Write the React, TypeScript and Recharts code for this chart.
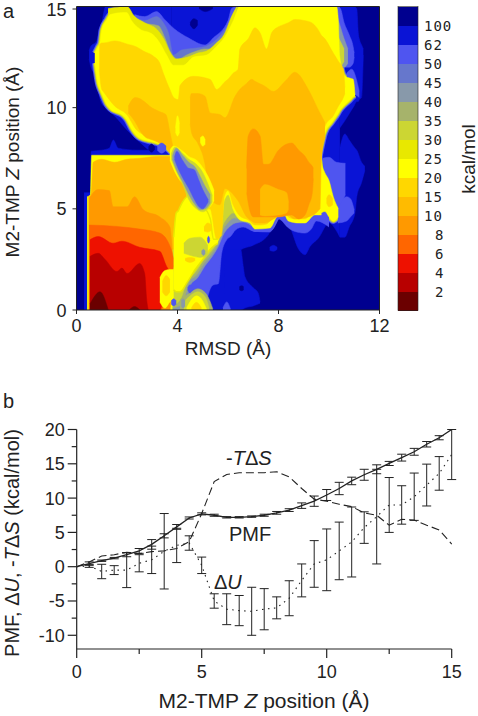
import React from "react";
import { ComposedChart, Area, Line, Bar, XAxis, YAxis, ErrorBar } from "recharts";

type Row = [number, number, number];

// ---------- panel a: contour regions [RMSD, low Z, high Z] ----------
const C = {
  navy: "#00008f", blue: "#0a14d6", peri: "#4f55f0", steel: "#6677cc", grey: "#8899aa", olive: "#a6b36b",
  lime: "#ccd633", dull: "#e8e800", yellow: "#ffff00", gold: "#ffd700", amber: "#ffbb00", orange: "#ff9900",
  dorange: "#ff6600", red: "#ee1100", dred: "#b80000", maroon: "#6b0000",
};
const navyField: Row[] = [[0, 0, 15], [12, 0, 15]];
const blueUpper: Row[] = [[.5, 12.4, 12.8], [.55, 12.1, 13], [.8, 11.4, 13.3], [.9, 10.6, 13.9], [1, 10.2, 14.2], [1.15, 10, 15], [1.5, 9.6, 15], [2, 8.9, 15], [2.5, 8.3, 15], [3, 7.8, 15], [3.75, 7.6, 15]];
const blueLower: Row[] = [[.3, 0, 5.8], [.55, 0, 5.8], [.58, 0, 7.85], [1, 0, 7.9], [1.3, 0, 8], [1.46, 0, 8.4], [1.65, 0, 8], [2.4, 0, 7.9], [3.8, 0, 7.9]];
const blueMain: Row[] = [[3.75, 0, 15], [5.9, 0, 15], [6.4, 0, 15], [6.5, 2.97, 15], [7, 3.2, 15], [7.6, 3.72, 15], [7.86, 4.46, 15], [8.19, 4.71, 15], [8.45, 4.13, 15], [8.8, 3, 15], [9.05, 2.73, 15], [9.25, 3.14, 15], [9.58, 3.55, 15], [10, 4.3, 15], [10.3, 3.9, 15], [10.43, 3.6, 15]];
const blueRightLow: Row[] = [[10.43, 3.6, 8], [10.63, 3.6, 8.7], [10.8, 4.1, 8.4], [11.03, 4.8, 8], [11.1, 5.6, 7.9], [11.29, 6.3, 7.3], [11.42, 6.9, 7.1]];
const blueRightUp: Row[] = [[10.43, 9, 15], [10.6, 9.3, 15], [10.8, 9.7, 15], [11, 10.1, 15], [11.1, 10.3, 14.9], [11.16, 10.3, 13.7], [11.2, 10.4, 13.4], [11.29, 10.5, 13.1], [11.36, 12.6, 12.9]];
const blueLobe: Row[] = [[5.88, 0, 3], [6.5, 0, 3], [6.6, .05, 2.2], [6.67, .1, 1.65], [7, .2, 1.1], [7.2, .3, .83], [7.27, .33, .4]];
const blueIsle: Row[] = [[7.65, 2.95, 3.1], [7.8, 2.9, 3.2], [7.95, 3, 3.1]];
const navySpotA: Row[] = [[4.5, 14.1, 14.2], [4.65, 13.9, 14.4], [4.8, 14.1, 14.3]];
const navySpotB: Row[] = [[4.85, 14.9, 15], [5.1, 14.75, 15], [5.4, 14.9, 15]];
const navySpotC: Row[] = [[6.45, 1, 1.15], [6.54, .95, 1.2], [6.62, 1, 1.15]];

const periTop: Row[] = [[2.3, 11, 14.6], [2.7, 11, 14.5], [3.17, 11, 14.75], [3.5, 11, 14.35], [3.87, 11, 13.9], [4.43, 11, 13.45], [5.09, 11, 13.1], [5.42, 11, 13.45], [6, 11, 14.3], [6.14, 11, 14.9], [6.3, 11, 15]];
const steelTop: Row[] = [[2.3, 11, 14.5], [2.7, 11, 14.3], [3.17, 11, 14.5], [3.44, 11, 14.2], [3.64, 11, 13.7], [3.84, 11, 12.6], [4.16, 11, 12.85], [4.76, 11, 12.95], [5.15, 11, 13.05], [5.48, 11, 13.3], [6, 11, 14.1], [6.17, 11, 14.5], [6.36, 11, 14.9]];
const oliveTop: Row[] = [[2.25, 11, 14.6], [2.58, 11, 14.2], [3.24, 11, 14.05], [3.5, 11, 13.45], [3.7, 11, 12.8], [4.03, 11, 12.4], [4.36, 11, 12.6], [4.76, 11, 12.8], [5.09, 11, 12.9], [5.38, 11, 12.9], [5.75, 11, 13.4], [6.14, 11, 13.95], [6.4, 11, 14.75]];
const dullTop: Row[] = [[1.25, 11, 14.9], [2, 11, 15], [2.3, 11, 14.5], [2.7, 11, 14.2], [3.2, 11, 13.85], [3.5, 11, 13.3], [3.7, 11, 12.75], [3.95, 11, 12.4], [4.4, 11, 12.5], [4.8, 11, 12.7], [5.15, 11, 12.8], [5.5, 11, 13.15], [5.9, 11, 13.75], [6.1, 11, 14.4], [6.35, 11, 15]];
const periEast: Row[] = [[10.3, 12, 15], [10.45, 12, 14.9], [10.6, 12, 14.2], [10.8, 12, 13.6], [10.96, 12.2, 13], [11, 12.5, 12.7]];
const greyEast: Row[] = [[10.3, 12, 14.6], [10.45, 12, 14], [10.6, 12, 13.4], [10.75, 12.2, 12.9]];
const oliveEast: Row[] = [[10.2, 12, 13.9], [10.4, 12, 13.4], [10.6, 12.3, 12.9]];
const periKnob: Row[] = [[10.7, 10.7, 11.7], [10.9, 10.7, 11.9], [11.2, 10.5, 10.8]];
const periSouthEast: Row[] = [[10.35, 4.3, 5.2], [10.7, 4.4, 5.6], [10.85, 4.6, 5.5], [11, 4.8, 4.95]];
const periEastMid: Row[] = [[9.75, 6.5, 7.5], [10, 6, 7.55], [10.3, 5.1, 7.3], [10.65, 5.7, 7.25]];
const periCentre: Row[] = [[3.6, 0, 6], [5, 0, 6], [5.15, .3, 6], [5.2, .65, 6], [5.42, 1.24, 6], [5.62, 1.3, 6], [5.75, 2.8, 6], [5.95, 3.47, 6], [6.1, 3.63, 6], [6.3, 3.96, 6], [6.6, 4.1, 5.5], [7, 3.9, 5], [7.66, 3.85, 4.5], [8, 4.5, 5], [8.4, 4.05, 5], [8.6, 3.9, 5], [9.05, 3.8, 5], [9.3, 4, 5], [9.5, 4.4, 5], [10, 4.1, 5]];
const greyCentre: Row[] = [[3.5, 0, 6], [4.3, 0, 6], [4.5, 1.2, 6], [4.8, 1.6, 6], [5.1, 2.2, 6], [5.35, 2.6, 6], [5.6, 3.1, 6], [5.85, 3.8, 6], [6.05, 4.1, 6], [6.3, 4.3, 6], [6.6, 4.35, 5.5], [7, 4.1, 5]];
const oliveCentre: Row[] = [[3.5, 0, 6], [4.2, .3, 6], [4.45, 1.35, 6], [4.75, 1.72, 6], [5.05, 2.3, 6], [5.32, 2.72, 6], [5.58, 3.2, 6], [5.82, 4, 6], [6.02, 4.35, 6], [6.25, 4.55, 6], [6.55, 4.4, 6]];
const limeCentre: Row[] = [[3.5, 0, 6], [4.1, .5, 6], [4.4, 1.45, 6], [4.7, 1.85, 6], [5, 2.4, 6], [5.3, 2.85, 6], [5.55, 3.3, 6], [5.8, 4.2, 6], [6, 4.6, 6], [6.2, 4.8, 6], [6.5, 4.45, 6]];

const yellowMain: Row[] = [[.73, 12.2, 12.7], [.85, 11.2, 13], [.93, 10.9, 13.2], [1, 10.7, 13.85], [1.2, 10.15, 14.35], [1.33, 9.95, 14.6], [1.85, 9.6, 14.7], [1.99, 9.4, 14.7], [2.18, 8.95, 14.3], [2.5, 8.5, 13.9], [3.04, 8.3, 13.6], [3.3, 8.2, 13.2], [3.57, 8, 12.6], [3.84, 7.6, 12.1], [4.23, 6, 12.1], [4.63, 5, 12.5], [5.15, 4, 12.6], [5.4, 3.2, 12.85], [5.6, 3.4, 13.1], [5.75, 4.2, 13.3], [5.85, 5.4, 13.45], [6.01, 5.7, 13.8], [6.21, 4.95, 14.3], [6.47, 4.45, 15], [6.87, 4.3, 15], [7.07, 4, 15], [7.66, 4.05, 15], [7.93, 4.6, 15], [8.19, 4.8, 15], [8.39, 4.4, 15], [8.8, 4.3, 15], [9.05, 4.3, 15], [9.44, 4.7, 15], [9.7, 4.7, 15]];
const yellowEastUp: Row[] = [[9.6, 7.4, 15], [9.84, 8.75, 15], [10.1, 9.25, 15], [10.3, 9.6, 15], [10.37, 9.74, 14.3], [10.42, 9.85, 12.6], [10.63, 10.15, 11.55], [10.85, 10.4, 11.45], [10.96, 10.55, 11.4], [11.03, 10.6, 10.65]];
const yellowEastLow: Row[] = [[9.6, 4.7, 7.6], [9.84, 4.87, 6.77], [10, 4.6, 6.4], [10.17, 4.4, 5.6], [10.37, 4.6, 5]];
const yellowBody: Row[] = [[.42, 0, 5.6], [.55, 0, 5.7], [.6, 0, 7.65], [3.8, 0, 7.65]];

const goldMain: Row[] = [[.9, 11.9, 13.1], [1, 10.9, 13.2], [1.06, 10.8, 13.2], [1.52, 10.07, 13.3], [1.99, 9.66, 13.15], [2.38, 8.9, 13], [2.65, 8.67, 12.8], [3.04, 8.4, 12.55], [3.3, 8.25, 12.2], [3.44, 8.15, 11.7], [3.7, 7.9, 10.9], [3.85, 5, 10.5], [4.03, 5, 10.4], [4.1, 5, 11.1], [4.63, 5, 11.55], [5.29, 5, 11.4], [5.55, 3.5, 10.9], [5.75, 3.7, 11.1], [5.85, 5.6, 11.25], [6, 5.9, 11.4], [6.2, 5.2, 11.7], [6.4, 4.75, 11.9], [6.47, 4.65, 12.9], [6.8, 4.45, 13.4], [7.07, 4.2, 13.95], [7.27, 4.2, 13.7], [7.53, 4.25, 12.9], [7.73, 4.5, 13.7], [8, 4.85, 14], [8.19, 5, 14.1], [8.39, 4.6, 14.2], [8.65, 4.5, 14.36], [9.05, 4.5, 14.3], [9.31, 4.8, 14.2], [9.64, 5, 13.7], [9.66, 8.1, 13.65], [9.84, 9.08, 13.4], [10.17, 9.6, 12.7], [10.37, 10.07, 12.3], [10.57, 10.5, 11.9], [10.63, 10.7, 11]];
const goldLump: Row[] = [[9.9, 5.3, 5.5], [10, 5.1, 5.7], [10.15, 5.2, 5.5]];
const amberUL: Row[] = [[2.05, 9.74, 10.07], [2.32, 9.3, 10.5], [2.5, 8.9, 10.45], [2.78, 8.5, 10.2], [2.9, 8.45, 10.07], [3.3, 8.25, 9.8], [3.54, 8, 9.66], [3.7, 7.8, 8.8], [3.83, 7.6, 8]];
const amberBody: Row[] = [[.47, 0, 5.6], [.58, 0, 5.7], [.66, 0, 7.3], [1, 0, 7.45], [1.5, 0, 7.3], [2, 0, 7.45], [2.5, 0, 7.5], [3.3, 0, 7.6], [3.8, 3, 7.6], [4, 3, 7.5], [4.4, 4.8, 6.5]];
const amberEast: Row[] = [[4.5, 9.2, 10.5], [4.56, 8.75, 10.7], [4.8, 8.25, 10.7], [5.09, 7.2, 10.56], [5.29, 5.5, 9.74], [5.68, 5.2, 9.66], [5.88, 6, 9.5], [6.28, 5.6, 10.56], [6.4, 5.4, 10.8], [6.74, 4.6, 11.2], [6.94, 4.4, 11.4], [7.07, 4.3, 11.3], [7.46, 4.3, 11.06], [7.8, 4.5, 10.8], [8.26, 4.8, 11.3], [8.65, 4.5, 11.75], [9.18, 4.6, 10.9], [9.64, 5, 9.74], [9.7, 7.5, 9.6], [9.84, 8.5, 9.25]];
const orangeEast: Row[] = [[6.74, 5.8, 7], [6.8, 5.3, 8.6], [7, 4.6, 8.95], [7.27, 4.6, 8.6], [7.4, 4.6, 7.2], [7.6, 4.6, 7.2], [8, 4.6, 7.9], [8.52, 4.7, 8.25], [8.8, 4.5, 7.9], [9.05, 4.7, 7.6], [9.2, 5.2, 7.3], [9.34, 5.8, 7.1], [9.38, 6.5, 7]];
const amberInner: Row[] = [[7.27, 4.7, 5.95], [7.46, 4.65, 6.2], [8, 4.7, 5.95], [8.32, 4.8, 5.8], [8.4, 5, 5.3]];
const orangeBody: Row[] = [[.5, 0, 5.5], [.85, 0, 5.95], [1.3, 0, 5.9], [1.45, 0, 5.1], [2, 0, 5.1], [2.3, 0, 5.6], [2.65, 0, 4.95], [3.3, 0, 4.6], [3.7, 0, 4.1], [3.8, 2.4, 2.8]];
const dorangeBody: Row[] = [[.5, 0, 4.2], [1.6, 0, 4.13], [2.5, 0, 4], [3.3, 0, 3.8], [3.75, 1.5, 3], [3.85, 2.2, 2.5]];
const redBody: Row[] = [[.53, 0, 3.47], [.86, 0, 3.63], [1.45, 0, 3.3], [1.8, 0, 3.4], [2.5, 0, 3.1], [3.3, 0, 2.9], [3.57, 1.2, 2.15], [3.7, 1.4, 1.9]];
const dredBody: Row[] = [[.53, 0, 2.65], [.86, 0, 2.8], [1.13, 0, 2.5], [1.6, 0, 1.9], [1.8, 0, 2.07], [2, 0, 1.8], [2.5, 0, 2.3], [2.7, 0, 1.8], [2.78, 0, .5], [2.84, 0, 0]];
const maroonBody: Row[] = [[.53, 0, .3], [.6, 0, .45], [.93, 0, .9], [1.26, 0, 0]];
const maroonTip: Row[] = [[2.1, 0, .02], [2.3, 0, .17], [2.5, 0, .02]];

const yellowLump: Row[] = [[3.3, .4, 1.6], [3.5, .1, 1.95], [3.7, .4, 2], [3.85, .6, 2]];
const goldLumpB: Row[] = [[3.4, .9, 1.4], [3.55, .7, 1.7], [3.7, .9, 1.5]];
const redDot: Row[] = [[3.9, 1.5, 2], [3.97, 1.4, 2], [4.03, 1.6, 1.9]];
const yellowCentre: Row[] = [[3.85, 1, 3.6], [3.95, .9, 4.8], [4.03, .9, 4.9], [4.1, .9, 5.1], [4.4, 1.4, 5.6], [4.7, 2, 5.2], [5, 2.5, 5.1], [5.3, 3, 4.5], [5.42, 3.15, 3.5], [5.6, 3.3, 3.5]];
const limePatch: Row[] = [[4.25, 2.8, 3.3], [4.5, 2.7, 3.55], [4.9, 2.6, 3.6], [5.2, 2.7, 3.2]];
const greyFloor: Row[] = [[4.1, 0, .5], [4.5, 0, .85], [4.8, 0, 1.05], [5.1, 0, .85], [5.3, 0, .4], [5.4, 0, .05]];
const limeFloor: Row[] = [[4.25, 0, .4], [4.5, 0, .7], [4.8, 0, .9], [5.1, 0, .65], [5.25, 0, .1]];
const yellowFloor: Row[] = [[4.36, 0, .1], [4.5, 0, .42], [4.75, 0, .7], [5, 0, .45], [5.15, 0, .05]];
const goldFloor: Row[] = [[4.55, 0, .1], [4.75, 0, .38], [4.95, 0, .1]];
const goldSpot: Row[] = [[5.05, 3.9, 4.1], [5.2, 3.85, 4.3], [5.35, 3.95, 4.2]];
const goldSpotB: Row[] = [[4.3, 2.45, 2.55], [4.5, 2.35, 2.6], [4.7, 2.45, 2.55]];
const periSpotA: Row[] = [[3.75, .3, .45], [3.85, .2, .55], [3.95, .3, .45]];
const periSpotB: Row[] = [[4.4, 1, 1.1], [4.5, .85, 1.25], [4.6, 1, 1.1]];
const greySpotA: Row[] = [[4.15, .2, .45], [4.22, .1, .55], [4.3, .2, .45]];
const periSpotC: Row[] = [[5.18, 3.45, 3.5], [5.23, 3.3, 3.65], [5.28, 3.45, 3.5]];
const greySpotB: Row[] = [[4.95, 2.8, 2.9], [5.03, 2.7, 3], [5.1, 2.8, 2.9]];
const yellowIsleA: Row[] = [[3.92, 8.8, 9], [4, 8.6, 9.6], [4.08, 8.8, 9.2]];
const yellowIsleB: Row[] = [[4.9, 8.3, 8.5], [5, 8.1, 8.6], [5.1, 8.2, 8.4]];

const chainYellow: Row[] = [[3.7, 7.4, 7.9], [3.85, 6.95, 8.1], [4.1, 6.4, 7.95], [4.3, 6.1, 7.75], [4.43, 5.3, 7.6], [4.76, 4.8, 7.4], [5.02, 4.9, 7], [5.29, 5.1, 6.4], [5.45, 5.4, 5.9]];
const chainLime: Row[] = [[3.75, 7.45, 7.7], [3.9, 7, 8.05], [4.2, 6.2, 7.75], [4.45, 5.45, 7.45], [4.75, 5, 7.2], [5, 4.85, 6.8], [5.2, 5, 6.25], [5.38, 5.35, 5.65]];
const chainGrey: Row[] = [[3.8, 7.45, 7.6], [3.95, 6.95, 8], [4.2, 6.35, 7.65], [4.45, 5.7, 7.3], [4.7, 5.2, 7.05], [4.9, 4.95, 6.6], [5.1, 5, 6.1], [5.3, 5.3, 5.7]];
const chainPeri: Row[] = [[3.88, 7.45, 7.55], [3.97, 7.15, 7.85], [4.2, 6.55, 7.4], [4.45, 6, 7], [4.65, 5.5, 6.95], [4.85, 5.1, 6.4], [5, 5, 5.95], [5.15, 5.2, 5.6], [5.22, 5.35, 5.45]];
const tonguePeri: Row[] = [[3.2, 7.9, 8.1], [3.37, 7.75, 8.25], [3.55, 7.9, 8.1]];
const tongueGrey: Row[] = [[3.3, 7.95, 8.05], [3.4, 7.85, 8.15], [3.48, 7.95, 8.05]];
const navyTongue: Row[] = [[2.85, 7.95, 8.05], [2.97, 7.8, 8.2], [3.1, 7.95, 8.05]];
const periFloor: Row[] = [[5.8, 0, .1], [5.95, 0, .4], [6.1, 0, .05]];

// fill, and an optional halo stroke that stands for the thin bands packed along a steep edge
const yellowPieces = [yellowMain, yellowEastUp, yellowEastLow];
const halos: [Row[], string, number, string][] = [C.peri, C.olive, C.dull].flatMap((c, k) =>
  yellowPieces.map((r) => [r, C.yellow, [6, 4, 2.2][k], c] as [Row[], string, number, string]));

const regions: [Row[], string, number?, string?][] = [
  [navyField, C.navy],
  [blueUpper, C.blue], [blueLower, C.blue], [blueMain, C.blue], [blueRightLow, C.blue], [blueRightUp, C.blue], [blueLobe, C.blue], [blueIsle, C.blue],
  [navySpotA, C.navy], [navySpotB, C.navy], [navySpotC, C.navy], [periFloor, C.peri],
  ...halos,
  [periTop, C.peri], [steelTop, C.steel], [oliveTop, C.olive], [dullTop, C.dull],
  [periEast, C.peri], [greyEast, C.grey], [oliveEast, C.lime], [periKnob, C.peri], [periSouthEast, C.peri], [periEastMid, C.peri],
  [periCentre, C.peri], [greyCentre, C.grey], [oliveCentre, C.olive], [limeCentre, C.lime],
  [yellowMain, C.yellow], [yellowEastUp, C.yellow], [yellowEastLow, C.yellow], [yellowBody, C.yellow],
  [goldMain, C.gold], [goldLump, C.gold], [amberUL, C.amber], [amberBody, C.amber], [amberEast, C.amber], [orangeEast, C.orange], [amberInner, C.amber],
  [orangeBody, C.orange], [dorangeBody, C.dorange], [redBody, C.red], [dredBody, C.dred], [maroonBody, C.maroon], [maroonTip, C.maroon],
  [yellowLump, C.yellow], [goldLumpB, C.gold], [redDot, C.red],
  [yellowCentre, C.yellow, 1.5, C.dull], [limePatch, C.lime], [greyFloor, C.olive], [limeFloor, C.lime], [yellowFloor, C.yellow], [goldFloor, C.gold], [goldSpot, C.gold], [goldSpotB, C.gold],
  [periSpotA, C.peri], [periSpotB, C.peri], [greySpotA, C.grey], [periSpotC, C.peri], [greySpotB, C.grey], [yellowIsleA, C.yellow], [yellowIsleB, C.yellow],
  [chainYellow, C.yellow], [chainLime, C.lime], [chainGrey, C.grey], [chainPeri, C.peri],
  [tongueGrey, C.grey], [tonguePeri, C.peri], [navyTongue, C.navy],
];

// ---------- colour bar ----------
const barColours = [C.maroon, C.dred, C.red, C.dorange, C.orange, C.amber, C.gold, C.yellow, C.dull, C.lime, C.olive, C.grey, C.steel, C.peri, C.blue, C.navy];
const barLabels = ["2", "4", "6", "8", "10", "15", "20", "25", "30", "35", "40", "45", "50", "62", "100"];

// ---------- panel b ----------
const zPos = [0, .5, 1, 1.5, 2, 2.5, 3, 3.5, 4, 4.5, 5, 5.5, 6, 6.5, 7, 7.5, 8, 8.5, 9, 9.5, 10, 10.5, 11, 11.5, 12, 12.5, 13, 13.5, 14, 14.5, 15];
const pmf = [0, .45, .87, 1.25, 1.75, 2.3, 3.25, 4.5, 5.8, 7.1, 7.7, 7.5, 7.2, 7.2, 7.3, 7.5, 7.85, 8.25, 8.9, 9.55, 10.45, 11.4, 12.5, 13.4, 14.2, 15.05, 15.9, 16.75, 17.85, 18.8, 20];
const pmfErr = [0, .25, .1, .1, .3, .35, .7, .3, .35, .15, .15, .15, .1, .1, .1, .15, .2, .2, .4, .75, .8, .9, .55, .8, .65, .3, .5, .5, .4, .3, 0];
const dU = [0, .1, -.7, -.5, -.5, .5, 1, 2.25, 3.1, 3.45, .2, -5, -6.2, -6.4, -6.5, -6.2, -6, -4.6, -2, .4, 1, 2.3, 3.6, 5.7, 7.3, 9, 9, 10.2, 11.9, 13.6, 16.35];
const dUErr = [0, .2, 1.05, .65, 2.55, 1.25, 2, 5.5, 2.5, 1.05, 1.2, 1.05, 2.25, 2.2, 3.5, 3, 1.6, 2.55, 2.4, 3.4, 4.5, 4.2, 5.1, 2.3, 6.9, 4, 2.8, 3.45, 3.05, 2.45, 3.65];
const tds = [0, .7, 1.55, 1.75, 2.1, 1.9, 2.2, 2.3, 2.65, 3.65, 7.75, 12.4, 13.45, 13.7, 13.7, 13.7, 13.85, 13.1, 11.4, 9.85, 9.55, 9.1, 8.75, 7.85, 7.5, 6.05, 6.9, 6.8, 6.05, 5.35, 3.3];
const panelB = zPos.map((z, i) => ({ z, pmf: pmf[i], pmfErr: pmfErr[i], dU: dU[i], dUErr: dUErr[i], tds: tds[i] }));
const xTicksB = [0, 2.5, 5, 7.5, 10, 12.5, 15];
const yTicksB = [-10, -7.5, -5, -2.5, 0, 2.5, 5, 7.5, 10, 12.5, 15, 17.5, 20];

const SANS = "'Liberation Sans', Arial, sans-serif";
const INK = "#222";

const xTickA = ({ x, y, payload }: any) => (
  <g><line x1={x} x2={x} y1={y} y2={y + 4} stroke={INK} />
    <text x={x} y={y + 22} textAnchor="middle" fontFamily={SANS} fontSize={18} fill={INK}>{payload.value}</text></g>
);
const yTickA = ({ x, y, payload }: any) => (
  <g><line x1={x - 4} x2={x} y1={y} y2={y} stroke={INK} />
    <text x={x - 10} y={y + 6.5} textAnchor="end" fontFamily={SANS} fontSize={18} fill={INK}>{payload.value}</text></g>
);
const topTick = ({ x, y }: any) => <line x1={x} x2={x} y1={y} y2={y - 4} stroke={INK} />;
const rightTick = ({ x, y }: any) => <line x1={x} x2={x + 4} y1={y} y2={y} stroke={INK} />;
const xTickB = ({ x, y, payload }: any) => {
  const major = payload.value % 5 === 0;
  return (<g><line x1={x} x2={x} y1={y} y2={y + (major ? 9 : 5)} stroke={INK} strokeWidth={1.2} />
    {major && <text x={x} y={y + 29} textAnchor="middle" fontFamily={SANS} fontSize={18} fill={INK}>{payload.value}</text>}</g>);
};
const yTickB = ({ x, y, payload }: any) => {
  const major = payload.value % 5 === 0;
  return (<g><line x1={x - (major ? 9 : 5)} x2={x} y1={y} y2={y} stroke={INK} strokeWidth={1.2} />
    {major && <text x={x - 12} y={y + 6.5} textAnchor="end" fontFamily={SANS} fontSize={18} fill={INK}>{payload.value}</text>}</g>);
};
const barTick = ({ x, y, payload }: any) => {
  const s = barLabels[payload.value - 1];
  return <text x={x + (s.length === 1 ? 17 : 6)} y={y + 5} fontFamily="'DejaVu Sans Mono', monospace" fontSize={14} letterSpacing={1} fill={INK}>{s}</text>;
};

export default function App() {
  return (
    <div style={{ position: "absolute", left: 0, top: 0, width: 478, height: 716, overflow: "hidden", background: "#fff" }}>
      <div style={{ position: "absolute", left: 0, top: 0 }}>
        <ComposedChart width={400} height={340} margin={{ top: 0, right: 0, bottom: 0, left: 0 }}>
          <XAxis xAxisId="b" dataKey="x" type="number" domain={[0, 12]} ticks={[0, 4, 8, 12]} height={30} tickSize={0} tickMargin={0} tick={xTickA} stroke={INK} allowDataOverflow />
          <XAxis xAxisId="t" orientation="top" type="number" domain={[0, 12]} ticks={[0, 4, 8, 12]} height={6.5} tickSize={0} tickMargin={0} tick={topTick} stroke={INK} />
          <YAxis yAxisId="l" type="number" domain={[0, 15]} ticks={[0, 5, 10, 15]} width={76.5} tickSize={0} tickMargin={0} tick={yTickA} stroke={INK} allowDataOverflow />
          <YAxis yAxisId="r" orientation="right" type="number" domain={[0, 15]} ticks={[0, 5, 10, 15]} width={20.5} tickSize={0} tickMargin={0} tick={rightTick} stroke={INK} />
          {regions.map(([rows, colour, sw, edge], i) => (
            <Area key={i} xAxisId="b" yAxisId="l" data={rows.map(([x, lo, hi]) => ({ x, band: [lo, hi] }))} dataKey="band"
              type="monotoneX" fill={colour} fillOpacity={1} stroke={edge || colour} strokeWidth={sw || .5}
              isAnimationActive={false} dot={false} activeDot={false} />
          ))}
        </ComposedChart>
      </div>

      <div style={{ position: "absolute", left: 398, top: 6.5 }}>
        <ComposedChart width={80} height={304} data={[{ c: "bar", ...Object.fromEntries(barColours.map((_, i) => ["b" + i, 1])) }]} margin={{ top: 0, right: 0, bottom: 0, left: 0 }} barCategoryGap={0}>
          <XAxis dataKey="c" hide />
          <YAxis orientation="right" type="number" domain={[0, 16]} ticks={barLabels.map((_, i) => i + 1)} width={60} tickSize={0} tickMargin={0} tick={barTick} axisLine={false} interval={0} />
          {barColours.map((c, i) => <Bar key={i} dataKey={"b" + i} stackId="s" fill={c} isAnimationActive={false} />)}
        </ComposedChart>
      </div>

      <div style={{ position: "absolute", left: 0, top: 420 }}>
        <ComposedChart width={478} height={296} data={panelB} margin={{ top: 9.5, right: 26.3, bottom: 0, left: 0 }}>
          <XAxis dataKey="z" type="number" domain={[0, 15]} ticks={xTicksB} interval={0} height={67} tickSize={0} tickMargin={0} tick={xTickB} stroke={INK} strokeWidth={1.2} />
          <YAxis type="number" domain={[-12, 20]} ticks={yTicksB} interval={0} width={76.7} tickSize={0} tickMargin={0} tick={yTickB} stroke={INK} strokeWidth={1.2} allowDataOverflow />
          <Line dataKey="tds" stroke={INK} strokeWidth={1.1} strokeDasharray="8 4" dot={false} isAnimationActive={false} type="linear" />
          <Line dataKey="dU" stroke={INK} strokeWidth={1.1} strokeDasharray="1.5 4.5" dot={false} isAnimationActive={false} type="linear">
            <ErrorBar dataKey="dUErr" width={4.5} stroke={INK} strokeWidth={1} direction="y" isAnimationActive={false} />
          </Line>
          <Line dataKey="pmf" stroke={INK} strokeWidth={1.3} dot={false} isAnimationActive={false} type="linear">
            <ErrorBar dataKey="pmfErr" width={4.5} stroke={INK} strokeWidth={1} direction="y" isAnimationActive={false} />
          </Line>
        </ComposedChart>
      </div>

      <svg width={478} height={716} style={{ position: "absolute", left: 0, top: 0, pointerEvents: "none" }} fontFamily={SANS} fill={INK}>
        <rect x={398} y={6.5} width={20} height={304} fill="none" stroke={INK} strokeWidth={.6} />
        <text x={3} y={18} fontSize={20}>a</text>
        <text x={3} y={408} fontSize={20}>b</text>
        <text x={228} y={355} fontSize={19} textAnchor="middle">RMSD (Å)</text>
        <text transform="translate(19,162) rotate(-90)" fontSize={19} textAnchor="middle">M2-TMP <tspan fontStyle="italic">Z</tspan> position (Å)</text>
        <text transform="translate(475,159) rotate(-90)" fontSize={19} textAnchor="middle">kcal/mol</text>
        <text x={264} y={708} fontSize={21} textAnchor="middle">M2-TMP <tspan fontStyle="italic">Z</tspan> position (Å)</text>
        <text transform="translate(19,543) rotate(-90)" fontSize={20} textAnchor="middle">PMF, Δ<tspan fontStyle="italic">U</tspan>, -<tspan fontStyle="italic">T</tspan>Δ<tspan fontStyle="italic">S</tspan> (kcal/mol)</text>
        <text x={226} y={465} fontSize={20}>-<tspan fontStyle="italic">T</tspan>Δ<tspan fontStyle="italic">S</tspan></text>
        <text x={229} y={541} fontSize={20}>PMF</text>
        <text x={214} y={589} fontSize={20}>Δ<tspan fontStyle="italic">U</tspan></text>
      </svg>
    </div>
  );
}
